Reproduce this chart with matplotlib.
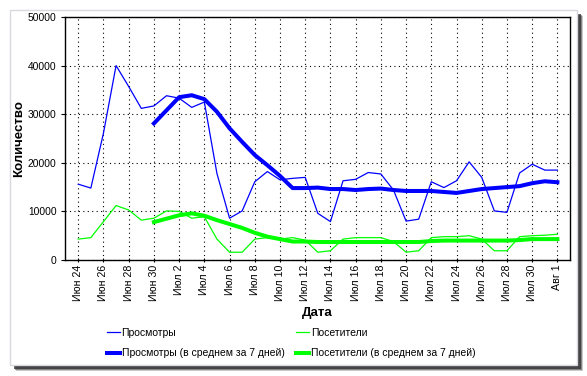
import matplotlib.pyplot as plt
from matplotlib.patches import Rectangle

plt.rcParams['font.family'] = ['Liberation Sans', 'DejaVu Sans']

# daily values, Jun 24 .. Aug 1
views = [15600, 14800, 26100, 40000, 35700, 31200, 31700, 33800, 33300, 31400,
         32500, 17800, 8600, 10100, 16100, 18200, 16500, 16800, 17000, 9600,
         7900, 16300, 16600, 18000, 17700, 14400, 8000, 8400, 16100, 14900,
         16300, 20200, 17000, 10100, 9800, 17900, 19700, 18500, 18500]
visitors = [4300, 4600, 7900, 11200, 10300, 8200, 8600, 10100, 10000, 8600,
            8900, 4300, 1600, 1600, 4300, 4600, 4300, 4600, 4100, 1600,
            1900, 4300, 4600, 4600, 4600, 3800, 1600, 1900, 4600, 4800,
            4800, 5000, 4300, 1900, 1900, 4800, 5000, 5100, 5300]
# 7-day averages start on Jun 30
views_avg = [28100, 30800, 33500, 33900, 33100, 30500, 27100, 24300, 21600, 19500,
             17300, 14800, 14800, 14900, 14600, 14600, 14400, 14600, 14700, 14400,
             14200, 14200, 14200, 14000, 13800, 14200, 14600, 14800, 15000, 15200,
             15800, 16200, 16000]
visitors_avg = [7800, 8500, 9200, 9600, 9100, 8200, 7400, 6600, 5600, 4800,
                4300, 3800, 3800, 3700, 3700, 3700, 3700, 3700, 3700, 3700,
                3700, 3700, 3900, 4000, 4000, 4000, 4000, 4000, 4000, 4100,
                4300, 4300, 4300]
tick_labels = ['Июн 24', 'Июн 26', 'Июн 28', 'Июн 30', 'Июл 2', 'Июл 4', 'Июл 6',
               'Июл 8', 'Июл 10', 'Июл 12', 'Июл 14', 'Июл 16', 'Июл 18', 'Июл 20',
               'Июл 22', 'Июл 24', 'Июл 26', 'Июл 28', 'Июл 30', 'Авг 1']

W, H = 587, 376
fig = plt.figure(figsize=(W / 100, H / 100), dpi=100, facecolor='white')

# panel with drop shadow
for k, a in enumerate([0.25, 0.45, 0.75]):
    off = 6 - k
    fig.patches.append(Rectangle(((10 + off) / W, 1 - (365 + off) / H), 567 / W, 355 / H,
                                 transform=fig.transFigure, facecolor='#303030',
                                 edgecolor='none', alpha=a, zorder=0))
fig.patches.append(Rectangle((10 / W, 1 - 365 / H), 567 / W, 355 / H,
                             transform=fig.transFigure, facecolor='white',
                             edgecolor='#d8d8e0', linewidth=1, zorder=1))

ax = fig.add_axes([65 / W, 1 - 260 / H, 505 / W, 243 / H])
ax.set_zorder(3)
ax.set_facecolor('white')

x = list(range(len(views)))
x_avg = list(range(6, 6 + len(views_avg)))
ax.plot(x, views, color='#0000ff', linewidth=0.9, label='Просмотры')
ax.plot(x_avg, views_avg, color='#0000ff', linewidth=2.9, label='Просмотры (в среднем за 7 дней)')
ax.plot(x, visitors, color='#00ff00', linewidth=0.9, label='Посетители')
ax.plot(x_avg, visitors_avg, color='#00ff00', linewidth=2.9, label='Посетители (в среднем за 7 дней)')

ax.set_xlim(-1.05, 39)
ax.set_ylim(0, 50000)
ax.set_xticks(range(0, len(views), 2))
ax.set_xticklabels(tick_labels, rotation=90, fontsize=7.7)
ax.set_yticks(range(0, 50001, 10000))
ax.set_yticklabels([str(v) for v in range(0, 50001, 10000)], fontsize=7.4)
ax.tick_params(axis='x', direction='inout', length=3, width=0.8, pad=2)
ax.tick_params(axis='y', direction='out', length=3, width=0.8, pad=3)
ax.grid(True, color='black', linestyle=(0, (1, 3)), linewidth=0.8)
for s in ax.spines.values():
    s.set_linewidth(1.0)

ax.set_xlabel('Дата', fontsize=9.5, fontweight='bold', labelpad=4)
ax.set_ylabel('Количество', fontsize=9.5, fontweight='bold', labelpad=2)

handles, labels = ax.get_legend_handles_labels()
leg = fig.legend(handles, labels, ncol=2, loc='upper left',
                 bbox_to_anchor=(107 / W, 1 - 328 / H), frameon=False, fontsize=7.5,
                 handlelength=1.25, handletextpad=0.15, columnspacing=1.15,
                 labelspacing=1.0, borderpad=0, borderaxespad=0)
leg.set_zorder(3)

fig.savefig('out.png', dpi=100, facecolor='white')
